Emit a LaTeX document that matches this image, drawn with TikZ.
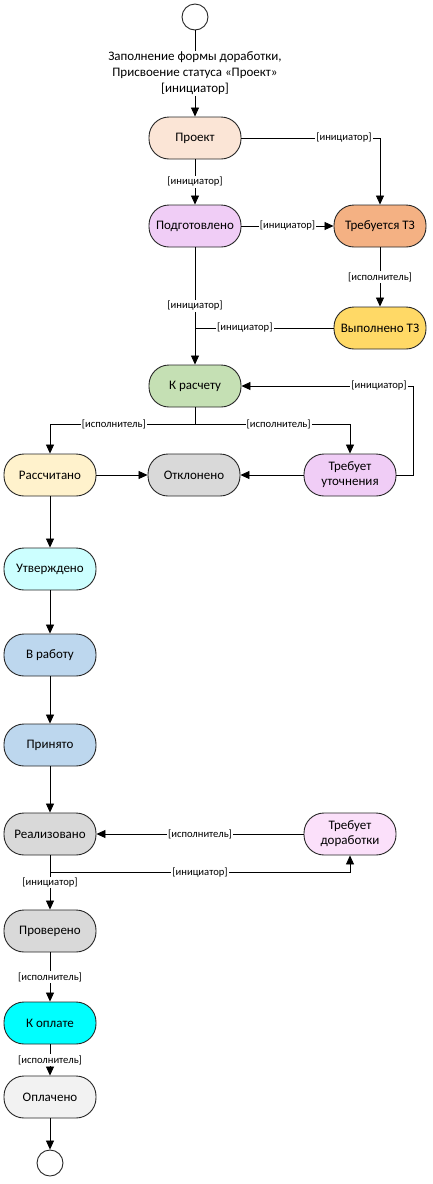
\documentclass[tikz,border=0pt]{standalone}
\usepackage{fontspec}
\setmainfont{Carlito}
\usetikzlibrary{arrows.meta}
\definecolor{cproekt}{HTML}{FBE5D6}
\definecolor{cpodg}{HTML}{F0CDF6}
\definecolor{ctz}{HTML}{F4B183}
\definecolor{cvyp}{HTML}{FFD966}
\definecolor{craschet}{HTML}{C5E0B4}
\definecolor{crass}{HTML}{FFF2CC}
\definecolor{cgray}{HTML}{D9D9D9}
\definecolor{cutv}{HTML}{CCFFFF}
\definecolor{cblue}{HTML}{BDD7EE}
\definecolor{cdorab}{HTML}{FBE0FA}
\definecolor{coplata}{HTML}{00FFFF}
\definecolor{coplacheno}{HTML}{F2F2F2}
\tikzset{
	state/.style={draw=black!85, line width=0.9pt, rounded corners=20pt, minimum width=92pt, minimum height=42pt, align=center, inner sep=2pt, font=\fontsize{13}{15}\selectfont},
	term/.style={circle, draw=black!85, line width=0.9pt, minimum size=26pt, inner sep=0pt},
	flow/.style={line width=0.8pt, -{Triangle[length=9pt,width=8pt]}},
	guard/.style={fill=white, inner sep=1pt, font=\fontsize{10.6}{12}\selectfont},
}

\begin{document}
\begin{tikzpicture}[x=1pt, y=-1pt]
			%%%%% START %%%%%
			\useasboundingbox (0, 0) rectangle (432, 1184);
			
			\node[term] (start) at (195, 17) {};
			\node[state, fill=cproekt] (proekt) at (195, 138) {Проект};
			\node[state, fill=cpodg] (podg) at (195, 226) {Подготовлено};
			\node[state, fill=ctz] (tz) at (380, 226) {Требуется ТЗ};
			\node[state, fill=cvyp] (vyp) at (380, 328) {Выполнено ТЗ};
			\node[state, fill=craschet] (raschet) at (195, 386) {К расчету};
			
			\node[state, fill=crass] (rass) at (50, 475) {Рассчитано};
			\node[state, fill=cgray] (otkl) at (194, 475) {Отклонено};
			\node[state, fill=cpodg] (utoch) at (350, 475) {Требует\\уточнения};
			
			\node[state, fill=cutv] (utv) at (50, 569) {Утверждено};
			\node[state, fill=cblue] (vrab) at (50, 655) {В работу};
			\node[state, fill=cblue] (prin) at (50, 745) {Принято};
			\node[state, fill=cgray] (real) at (50, 834) {Реализовано};
			\node[state, fill=cdorab] (dorab) at (350, 834) {Требует\\доработки};
			\node[state, fill=cgray] (prov) at (50, 931) {Проверено};
			\node[state, fill=coplata] (kopl) at (50, 1023) {К оплате};
			\node[state, fill=coplacheno] (opl) at (50, 1097) {Оплачено};
			\node[term] (stop) at (50, 1163) {};
			
			%% upper part
			\draw[flow] (start) -- node[guard, align=center, font=\fontsize{13}{16}\selectfont] {Заполнение формы доработки,\\Присвоение статуса «Проект»\\{[инициатор]}} (proekt);
			\draw[flow] (proekt) -| node[guard, pos=0.37] {[инициатор]} (tz);
			\draw[flow] (proekt) -- node[guard] {[инициатор]} (podg);
			\draw[flow] (podg) -- node[guard] {[инициатор]} (tz);
			\draw[flow] (tz) -- node[guard] {[исполнитель]} (vyp);
			\draw[flow] (podg) -- node[guard] {[инициатор]} (raschet);
			\draw[line width=0.8pt] (vyp) -- node[guard, pos=0.64] {[инициатор]} (vyp -| raschet);
			
			%% calculation
			\draw[flow] (raschet.south) -- ++(0, 17) -| node[guard, pos=0.28] {[исполнитель]} (rass);
			\draw[flow] (raschet.south) -- ++(0, 17) -| node[guard, pos=0.27] {[исполнитель]} (utoch);
			\draw[flow] (utoch.east) -- ++(17, 0) |- node[guard, pos=0.6] {[инициатор]} (raschet);
			\draw[flow] (rass) -- (otkl);
			\draw[flow] (utoch) -- (otkl);
			
			%% lower part
			\draw[flow] (rass) -- (utv);
			\draw[flow] (utv) -- (vrab);
			\draw[flow] (vrab) -- (prin);
			\draw[flow] (prin) -- (real);
			\draw[flow] (dorab) -- node[guard] {[исполнитель]} (real);
			\draw[flow] (real.south) -- ++(0, 17) -| node[guard, pos=0.25] {[инициатор]} (dorab);
			\draw[flow] (real) -- node[guard] {[инициатор]} (prov);
			\draw[flow] (prov) -- node[guard] {[исполнитель]} (kopl);
			\draw[flow] (kopl) -- node[guard] {[исполнитель]} (opl);
			\draw[flow] (opl) -- (stop);
			%%%%% END %%%%%
\end{tikzpicture}
\end{document}
